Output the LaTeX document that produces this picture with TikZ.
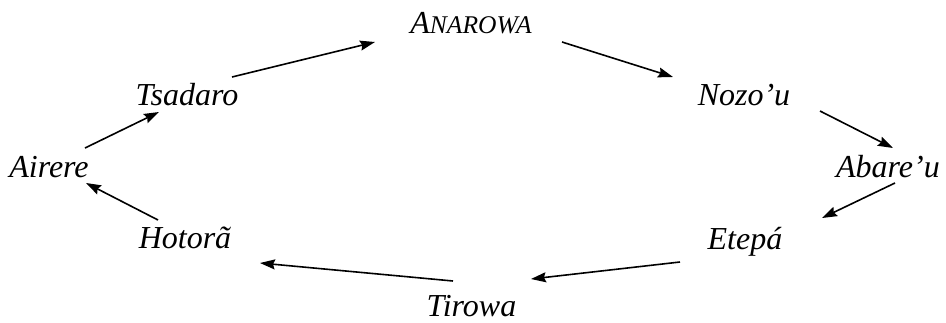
\documentclass[tikz,border=0pt]{standalone}
\usepackage{fontspec}
\setmainfont{Liberation Serif}
\usetikzlibrary{arrows.meta,calc}

\tikzset{
  word/.style={inner sep=0pt, anchor=base, font=\fontsize{32}{32}\selectfont\itshape},
  arr/.style={line width=1.6pt, -{Stealth[length=15pt,width=10pt,inset=2pt]}}
}
% fake small capitals for the top name
\newcommand{\smallcapsword}[2]{#1{\fontsize{25.5}{25.5}\selectfont #2}}

\begin{document}
\begin{tikzpicture}[x=1pt, y=-1pt]
  \useasboundingbox (0,0) rectangle (946,322);

  % names around the cycle, placed by their baselines
  \node[word] (anarowa) at (471,33)   {\smallcapsword{A}{NAROWA}};
  \node[word] (tsadaro) at (187,105)  {Tsadaro};
  \node[word] (nozou)   at (744,105)  {Nozo’u};
  \node[word] (airere)  at (49,177)   {Airere};
  \node[word] (abareu)  at (888,177)  {Abare’u};
  \node[word] (hotora)  at (185,248)  {Hotorã};
  \node[word] (etepa)   at (745,249)  {Etepá};
  \node[word] (tirowa)  at (471.5,316.5) {Tirowa};

  % clockwise arrows between the names
  \draw[arr] ($(airere.base)+(36,-29)$)  -- ($(tsadaro.base)+(-28,7)$);
  \draw[arr] ($(tsadaro.base)+(45,-28)$) -- ($(anarowa.base)+(-96,9)$);
  \draw[arr] ($(anarowa.base)+(91,9)$)   -- ($(nozou.base)+(-71,-28)$);
  \draw[arr] ($(nozou.base)+(76,6)$)     -- ($(abareu.base)+(5,-29)$);
  \draw[arr] ($(abareu.base)+(7,6)$)     -- ($(etepa.base)+(77,-31)$);
  \draw[arr] ($(etepa.base)+(-65,13)$)   -- ($(tirowa.base)+(59.5,-37.5)$);
  \draw[arr] ($(tirowa.base)+(-18.5,-35.5)$) -- ($(hotora.base)+(75,15)$);
  \draw[arr] ($(hotora.base)+(-27,-28)$) -- ($(airere.base)+(37,6)$);
\end{tikzpicture}
\end{document}
